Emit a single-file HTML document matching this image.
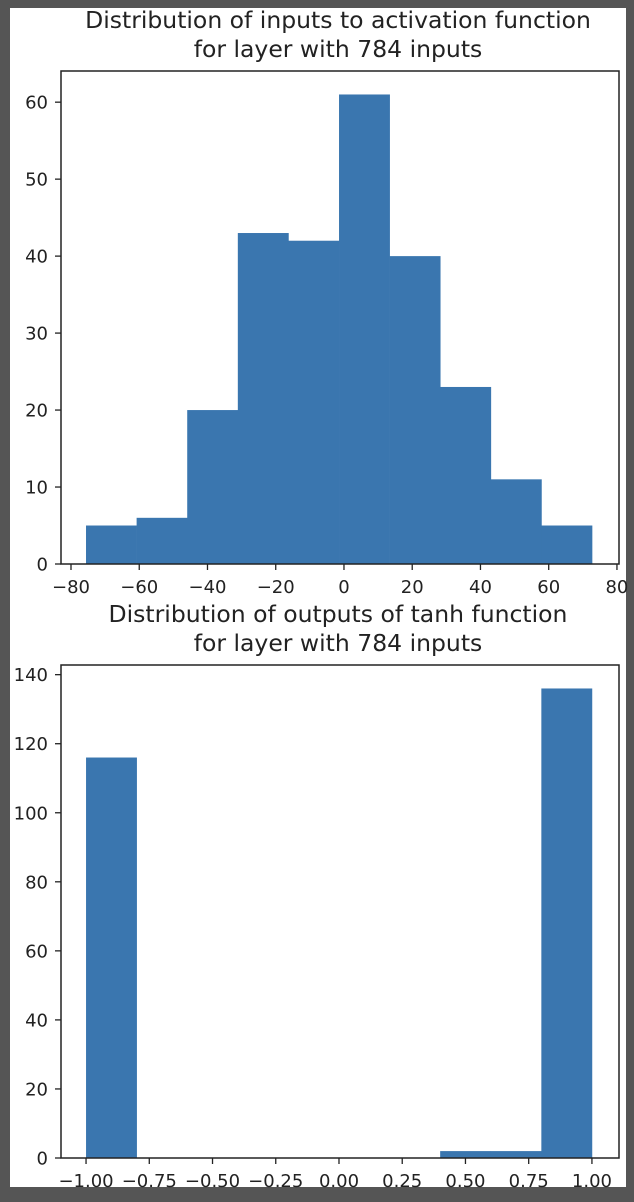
<!DOCTYPE html>
<html><head><meta charset="utf-8"><style>
html,body{margin:0;padding:0;background:#555;}
svg{display:block;font-family:"DejaVu Sans","Liberation Sans",sans-serif;}
</style></head><body>
<svg id="fig" width="634" height="1202" viewBox="0 0 634 1202">
<rect x="0" y="0" width="634" height="1202" fill="#555"/>
<rect x="10" y="8" width="616" height="1179" fill="#fff"/>
<g id="top"></g>
<g id="bot"></g>
</svg>
<script>
const topCounts=[5,6,20,43,42,61,40,23,11,5];
const topBinMin=-75.6, topBinMax=72.7;
const topXTicks=[-80,-60,-40,-20,0,20,40,60,80];
const topYTicks=[0,10,20,30,40,50,60];
const topTitle=["Distribution of inputs to activation function","for layer with 784 inputs"];
const botCounts=[116,0,0,0,0,0,0,2,2,136];
const botBinMin=-1.0, botBinMax=1.0;
const botXTicks=[-1.00,-0.75,-0.50,-0.25,0.00,0.25,0.50,0.75,1.00];
const botYTicks=[0,20,40,60,80,100,120,140];
const botTitle=["Distribution of outputs of tanh function","for layer with 784 inputs"];
const NS="http://www.w3.org/2000/svg";
function mk(p,t,a){const e=document.createElementNS(NS,t);for(const k in a)e.setAttribute(k,a[k]);p.appendChild(e);return e;}
function fmt(v,dec){return (v<0?"\u2212":"")+Math.abs(v).toFixed(dec);}
function draw(g,counts,bmin,bmax,xt,yt,title,box,xdom,dec,prefix){
  const [L,T,R,B]=box;
  const ymax=Math.max(...counts)*1.05;
  const xs=v=>L+(v-xdom[0])/(xdom[1]-xdom[0])*(R-L);
  const ys=v=>B-v/ymax*(B-T);
  const w=(bmax-bmin)/counts.length;
  counts.forEach((c,i)=>{
    if(c<=0)return;
    const x0=xs(bmin+i*w),x1=xs(bmin+(i+1)*w);
    const r=mk(g,"rect",{x:x0,y:ys(c),width:x1-x0+0.3,height:B-ys(c),fill:"#3a76af"});
    
    
  });
  const f=mk(g,"rect",{x:L,y:T,width:R-L,height:B-T,fill:"none",stroke:"#222","stroke-width":1.5});
  
  
  xt.forEach(v=>{
    const x=xs(v);
    mk(g,"line",{x1:x,x2:x,y1:B,y2:B+6,stroke:"#222","stroke-width":1.3});
    const t=mk(g,"text",{x:x,y:B+29,"text-anchor":"middle","font-size":18,fill:"#222"});
    t.textContent=fmt(v,dec);
    
    
  });
  yt.forEach(v=>{
    const y=ys(v);
    mk(g,"line",{x1:L-6,x2:L,y1:y,y2:y,stroke:"#222","stroke-width":1.3});
    const t=mk(g,"text",{x:L-13,y:y+6.5,"text-anchor":"end","font-size":18,fill:"#222"});
    t.textContent=String(v);
    
    
  });
  title.forEach((s,i)=>{
    const t=mk(g,"text",{x:(L+R)/2-2,y:T-43+i*29,"text-anchor":"middle","font-size":23.5,fill:"#222"});
    t.textContent=s;
    
    
  });
}
draw(document.getElementById("top"),topCounts,topBinMin,topBinMax,topXTicks,topYTicks,topTitle,[61,71,619,564],[-82.93,80.6],0,"top");
draw(document.getElementById("bot"),botCounts,botBinMin,botBinMax,botXTicks,botYTicks,botTitle,[61,665,619,1158],[-1.099,1.107],2,"bottom");
</script>
</body></html>
